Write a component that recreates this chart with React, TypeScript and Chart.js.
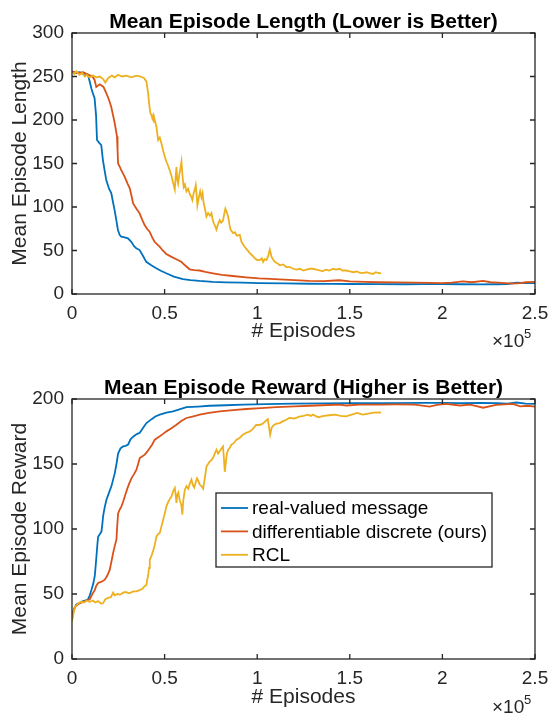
import { useEffect, useRef } from "react";
import { Chart, registerables } from "chart.js";

Chart.register(...registerables);

const FONT = "'Liberation Sans', Arial, Helvetica, sans-serif";
const AXIS = "#262626";
const COLORS = ["#0072BD", "#D95319", "#EDB120"];
const seriesNames = ["real-valued message", "differentiable discrete (ours)", "RCL"];

const xTicks = [0, 0.5, 1, 1.5, 2, 2.5];
const lenTicks = [0, 50, 100, 150, 200, 250, 300];
const rewTicks = [0, 50, 100, 150, 200];

// x in units of 10^5 episodes
const lenReal: [number, number][] = [
  [0, 255], [0.02, 254], [0.04, 255], [0.06, 253], [0.086, 252], [0.096, 244], [0.105, 236], [0.114, 230],
  [0.122, 225], [0.13, 205], [0.135, 177], [0.146, 174], [0.158, 171], [0.167, 154], [0.176, 142], [0.185, 131],
  [0.2, 121], [0.212, 116], [0.221, 106], [0.23, 96.5], [0.24, 84], [0.248, 73.6], [0.257, 68], [0.266, 66],
  [0.284, 65], [0.302, 64], [0.32, 60], [0.335, 55], [0.347, 52.5], [0.365, 50.5], [0.383, 44], [0.401, 37],
  [0.428, 33], [0.455, 29.5], [0.482, 26.5], [0.509, 23.8], [0.55, 20], [0.599, 17.2], [0.64, 16], [0.689, 15],
  [0.76, 14], [0.833, 13.4], [0.92, 13], [1.01, 12.6], [1.15, 12.2], [1.28, 11.8], [1.4, 11.6], [1.5, 11.5],
  [1.65, 11.3], [1.8, 11.2], [1.9, 11.4], [2.0, 11.5], [2.1, 11.2], [2.2, 11], [2.3, 11.2], [2.35, 11.5],
  [2.4, 13], [2.45, 12.5], [2.5, 12.5],
];

const lenDisc: [number, number][] = [
  [0, 256], [0.03, 254], [0.06, 255], [0.09, 252], [0.11, 250], [0.122, 246], [0.131, 238], [0.15, 241],
  [0.17, 238], [0.185, 231], [0.2, 223], [0.212, 215], [0.222, 205], [0.231, 196], [0.243, 181], [0.246, 165],
  [0.249, 150], [0.258, 146], [0.266, 142.5], [0.284, 135], [0.3, 127], [0.312, 121.5], [0.322, 112], [0.33, 104],
  [0.348, 98], [0.365, 92.7], [0.38, 85], [0.392, 79.3], [0.405, 75], [0.419, 71.6], [0.433, 65], [0.446, 60],
  [0.46, 57], [0.473, 54.4], [0.49, 50], [0.509, 46], [0.535, 43], [0.563, 40], [0.59, 37], [0.61, 33],
  [0.635, 28.4], [0.66, 27.5], [0.689, 27], [0.72, 25.5], [0.761, 23.8], [0.81, 22], [0.868, 20.7], [0.94, 19.2],
  [1.01, 18], [1.07, 17.4], [1.12, 16.8], [1.2, 16], [1.28, 15], [1.36, 14.8], [1.42, 15.5], [1.444, 15.8],
  [1.5, 14.5], [1.58, 14], [1.66, 13.5], [1.75, 13.3], [1.85, 13], [1.93, 12.8], [2.0, 12.5], [2.05, 13],
  [2.11, 14.5], [2.16, 13.5], [2.22, 15], [2.26, 13.5], [2.3, 13], [2.38, 12], [2.42, 12.5], [2.45, 13.5],
  [2.5, 14],
];

const lenRcl: [number, number][] = [
  [0, 255], [0.012, 253], [0.024, 256], [0.04, 252], [0.055, 254], [0.07, 250], [0.078, 252], [0.095, 249],
  [0.114, 251], [0.13, 249], [0.15, 250], [0.168, 247], [0.18, 243], [0.195, 248], [0.215, 251], [0.231, 249],
  [0.249, 252], [0.27, 250], [0.294, 251], [0.32, 249], [0.348, 251], [0.37, 250], [0.39, 248], [0.402, 244],
  [0.406, 238], [0.411, 231], [0.417, 218], [0.423, 208], [0.428, 206], [0.434, 202], [0.438, 205], [0.443, 198],
  [0.447, 200], [0.456, 192], [0.462, 182], [0.465, 177], [0.474, 180], [0.483, 173], [0.492, 165], [0.501, 158],
  [0.51, 152], [0.518, 148], [0.528, 142], [0.537, 136], [0.548, 126], [0.555, 120], [0.56, 135], [0.564, 146],
  [0.568, 132], [0.573, 127], [0.58, 138], [0.586, 145], [0.591, 152], [0.597, 135], [0.603, 123], [0.61, 126],
  [0.618, 118], [0.627, 121], [0.636, 115], [0.643, 112], [0.65, 108], [0.657, 116], [0.663, 120], [0.668, 125],
  [0.673, 114], [0.677, 102], [0.684, 110], [0.692, 118], [0.699, 111], [0.705, 116], [0.711, 104], [0.718, 98],
  [0.726, 89], [0.735, 93], [0.745, 90], [0.753, 93], [0.76, 85], [0.766, 81], [0.773, 78], [0.78, 74],
  [0.788, 80], [0.798, 85], [0.806, 82], [0.815, 84], [0.822, 92], [0.828, 98], [0.834, 95], [0.843, 89],
  [0.85, 80], [0.856, 74], [0.863, 72], [0.87, 70], [0.88, 71], [0.89, 67], [0.906, 68], [0.915, 60],
  [0.924, 57], [0.933, 54], [0.945, 51], [0.96, 47], [0.975, 44], [0.987, 41], [1.0, 39], [1.014, 39],
  [1.025, 41], [1.032, 37], [1.04, 40], [1.05, 39], [1.06, 44], [1.068, 51], [1.073, 47], [1.077, 43],
  [1.088, 39], [1.095, 37], [1.11, 35], [1.122, 33], [1.14, 34], [1.157, 31], [1.176, 31], [1.195, 29],
  [1.212, 28], [1.23, 29], [1.25, 27], [1.266, 28], [1.284, 29], [1.3, 29], [1.32, 28], [1.34, 27],
  [1.352, 26], [1.37, 28], [1.39, 27], [1.41, 29], [1.426, 28], [1.445, 29], [1.46, 27], [1.48, 27],
  [1.5, 26], [1.52, 25], [1.54, 26], [1.552, 24.5], [1.57, 24], [1.59, 25], [1.606, 24], [1.625, 23],
  [1.64, 25], [1.655, 24], [1.669, 24],
];

const rewReal: [number, number][] = [
  [0, 31], [0.008, 37], [0.016, 40], [0.024, 42], [0.04, 43], [0.06, 44.5], [0.075, 45], [0.087, 46],
  [0.096, 49], [0.105, 53], [0.115, 58], [0.123, 64], [0.128, 72], [0.132, 79], [0.137, 88], [0.141, 94],
  [0.15, 96], [0.159, 98], [0.164, 104], [0.168, 110], [0.177, 117], [0.186, 122.5], [0.2, 128], [0.213, 133],
  [0.222, 138], [0.231, 143], [0.24, 150], [0.249, 158], [0.262, 162], [0.276, 163.5], [0.29, 164], [0.303, 165],
  [0.316, 169], [0.33, 171], [0.35, 173], [0.366, 174], [0.385, 178], [0.402, 181.5], [0.43, 184.5], [0.45, 186.5],
  [0.474, 188], [0.51, 189.5], [0.546, 190.5], [0.58, 192], [0.618, 193.8], [0.68, 194.2], [0.744, 194.8], [0.83, 195.2],
  [0.924, 195.6], [1.05, 196], [1.194, 196.4], [1.35, 196.7], [1.5, 196.8], [1.7, 196.9], [1.9, 197], [2.0, 197],
  [2.1, 196.8], [2.2, 197], [2.3, 196.8], [2.35, 196.5], [2.4, 197.3], [2.45, 196.5], [2.5, 196.3],
];

const rewDisc: [number, number][] = [
  [0, 32], [0.008, 37], [0.016, 40], [0.024, 41], [0.042, 43], [0.06, 44], [0.08, 45], [0.096, 46],
  [0.11, 50], [0.123, 53], [0.13, 56], [0.141, 58.5], [0.16, 59.5], [0.177, 61], [0.19, 64], [0.204, 68.7],
  [0.213, 75], [0.222, 81.5], [0.231, 87], [0.24, 92], [0.244, 102], [0.249, 112], [0.258, 115], [0.267, 117.4],
  [0.276, 121], [0.285, 125], [0.294, 129], [0.303, 132.8], [0.312, 136], [0.321, 139], [0.334, 142], [0.348, 145.6],
  [0.357, 150], [0.366, 154.6], [0.38, 156], [0.393, 157.2], [0.406, 159.5], [0.42, 162.3], [0.433, 165], [0.447, 168.7],
  [0.46, 170], [0.474, 171.3], [0.49, 173], [0.51, 175.1], [0.537, 177.5], [0.564, 180.2], [0.59, 183], [0.618, 185.4],
  [0.65, 186.5], [0.69, 187.9], [0.74, 189.3], [0.798, 190.5], [0.87, 191.5], [0.942, 192.3], [1.02, 193], [1.104, 193.8],
  [1.2, 194.4], [1.284, 194.8], [1.35, 195.2], [1.445, 195.7], [1.481, 195], [1.55, 195.6], [1.661, 195.7], [1.75, 195.8],
  [1.85, 195.6], [1.931, 194.2], [1.97, 195.5], [2.02, 196.2], [2.094, 195], [2.15, 195.6], [2.22, 193.3], [2.29, 195.5],
  [2.38, 196.3], [2.42, 194.4], [2.46, 194.8], [2.5, 194.2],
];

const rewRcl: [number, number][] = [
  [0, 29], [0.008, 35], [0.016, 40], [0.024, 41], [0.035, 43], [0.05, 44], [0.065, 43.5], [0.08, 45],
  [0.095, 44], [0.114, 45], [0.125, 43.5], [0.14, 44.5], [0.158, 42.5], [0.168, 43], [0.18, 46], [0.195, 47],
  [0.21, 47.5], [0.222, 51], [0.231, 49], [0.245, 50], [0.26, 49.5], [0.276, 51], [0.29, 51.5], [0.31, 50.5],
  [0.33, 52], [0.348, 52], [0.365, 53], [0.38, 54], [0.392, 56], [0.402, 57], [0.406, 61], [0.411, 64],
  [0.416, 70], [0.42, 76.4], [0.428, 79], [0.438, 83], [0.447, 88], [0.456, 94.3], [0.465, 96], [0.474, 97],
  [0.483, 102], [0.492, 107], [0.501, 112], [0.51, 117.4], [0.52, 121], [0.528, 123], [0.537, 125], [0.546, 129],
  [0.555, 131.5], [0.56, 126], [0.564, 120], [0.568, 126], [0.574, 128], [0.582, 122], [0.591, 118], [0.596, 111],
  [0.6, 121], [0.609, 130], [0.618, 133], [0.628, 131], [0.636, 135], [0.645, 138], [0.652, 134], [0.66, 132],
  [0.668, 136], [0.675, 139], [0.682, 137], [0.69, 134], [0.699, 133], [0.708, 131], [0.716, 138], [0.726, 148],
  [0.735, 150], [0.744, 152], [0.753, 153], [0.762, 155], [0.771, 158], [0.78, 161], [0.789, 158], [0.798, 160],
  [0.807, 162], [0.815, 163.5], [0.82, 155], [0.825, 144], [0.83, 150], [0.836, 158], [0.843, 161], [0.85, 162],
  [0.86, 164.8], [0.873, 166], [0.888, 168.7], [0.905, 170], [0.922, 172.5], [0.94, 174], [0.96, 175], [0.977, 177],
  [0.994, 180], [1.012, 180], [1.03, 181], [1.045, 183], [1.057, 184.6], [1.064, 178], [1.07, 172.5], [1.078, 178],
  [1.09, 180], [1.105, 181], [1.122, 181.5], [1.14, 183], [1.157, 184], [1.174, 185.4], [1.2, 185], [1.228, 186.4],
  [1.25, 187], [1.273, 187.9], [1.29, 187], [1.3, 188], [1.33, 186], [1.36, 187], [1.39, 187.5], [1.42, 188],
  [1.45, 187], [1.48, 186.7], [1.51, 188], [1.54, 189.3], [1.57, 188], [1.6, 188.7], [1.63, 189.5], [1.66, 189.7],
  [1.669, 189.5],
];

type Panel = {
  title: string;
  ylabel: string;
  yTicks: number[];
  series: [number, number][][];
  height: number;
  top: number;
  bottom: number;
  titleY: number;
  xlabelY: number;
  expY: number;
  legend: null | { x: number; y: number; w: number; h: number };
};

const panels: Panel[] = [
  {
    title: "Mean Episode Length (Lower is Better)",
    ylabel: "Mean Episode Length",
    yTicks: lenTicks,
    series: [lenReal, lenDisc, lenRcl],
    height: 360,
    top: 33,
    bottom: 294,
    titleY: 28,
    xlabelY: 337,
    expY: 347,
    legend: null,
  },
  {
    title: "Mean Episode Reward (Higher is Better)",
    ylabel: "Mean Episode Reward",
    yTicks: rewTicks,
    series: [rewReal, rewDisc, rewRcl],
    height: 355,
    top: 39,
    bottom: 299,
    titleY: 34,
    xlabelY: 343,
    expY: 353,
    legend: { x: 216, y: 133, w: 276, h: 74 },
  },
];

const LEFT = 72;
const RIGHT = 535;
const WIDTH = 550;
const TICK_LEN = 5;

function makeChart(canvas: HTMLCanvasElement, p: Panel) {
  const frame = {
    id: "matlabFrame",
    afterDatasetsDraw(chart: any) {
      const { ctx, chartArea: a, scales } = chart;
      ctx.save();
      ctx.strokeStyle = AXIS;
      ctx.lineWidth = 1.3;
      ctx.beginPath();
      for (const v of xTicks) {
        const px = scales.x.getPixelForValue(v);
        ctx.moveTo(px, a.bottom);
        ctx.lineTo(px, a.bottom - TICK_LEN);
        ctx.moveTo(px, a.top);
        ctx.lineTo(px, a.top + TICK_LEN);
      }
      for (const v of p.yTicks) {
        const py = scales.y.getPixelForValue(v);
        ctx.moveTo(a.left, py);
        ctx.lineTo(a.left + TICK_LEN, py);
        ctx.moveTo(a.right, py);
        ctx.lineTo(a.right - TICK_LEN, py);
      }
      ctx.stroke();
      ctx.strokeRect(a.left, a.top, a.right - a.left, a.bottom - a.top);

      const cx = (a.left + a.right) / 2;
      const cy = (a.top + a.bottom) / 2;
      ctx.fillStyle = "#000";
      ctx.textAlign = "center";
      ctx.textBaseline = "alphabetic";
      ctx.font = `bold 21px ${FONT}`;
      ctx.fillText(p.title, cx, p.titleY);

      ctx.fillStyle = AXIS;
      ctx.font = `21px ${FONT}`;
      ctx.fillText("# Episodes", cx, p.xlabelY);
      ctx.save();
      ctx.translate(26, cy);
      ctx.rotate(-Math.PI / 2);
      ctx.fillText(p.ylabel, 0, 0);
      ctx.restore();

      ctx.textAlign = "left";
      ctx.font = `19px ${FONT}`;
      ctx.fillText("\u00d710", 492, p.expY);
      ctx.font = `13px ${FONT}`;
      ctx.fillText("5", 524, p.expY - 9);

      if (p.legend) {
        const L = p.legend;
        ctx.fillStyle = "#fff";
        ctx.fillRect(L.x, L.y, L.w, L.h);
        ctx.strokeStyle = AXIS;
        ctx.lineWidth = 1.3;
        ctx.strokeRect(L.x, L.y, L.w, L.h);
        ctx.font = `19px ${FONT}`;
        ctx.textBaseline = "middle";
        chart.data.datasets.forEach((ds: any, i: number) => {
          const ry = L.y + 15 + i * 23.4;
          ctx.strokeStyle = ds.borderColor;
          ctx.lineWidth = 1.8;
          ctx.beginPath();
          ctx.moveTo(L.x + 5, ry);
          ctx.lineTo(L.x + 32, ry);
          ctx.stroke();
          ctx.fillStyle = "#000";
          ctx.fillText(ds.label, L.x + 36, ry + 1);
        });
      }
      ctx.restore();
    },
  };

  return new Chart(canvas, {
    type: "line",
    data: {
      datasets: p.series.map((s, i) => ({
        label: seriesNames[i],
        data: s.map(([x, y]) => ({ x, y })),
        borderColor: COLORS[i],
        backgroundColor: COLORS[i],
        borderWidth: 1.8,
        pointRadius: 0,
        tension: 0,
        fill: false,
        order: 3 - i,
      })),
    },
    options: {
      responsive: false,
      animation: false,
      devicePixelRatio: 1,
      events: [],
      layout: { padding: { top: p.top, right: WIDTH - RIGHT, left: 0, bottom: 0 } },
      plugins: {
        legend: { display: false },
        tooltip: { enabled: false },
        title: { display: false },
      },
      scales: {
        x: {
          type: "linear",
          min: 0,
          max: 2.5,
          afterBuildTicks: (s: any) => {
            s.ticks = xTicks.map((v) => ({ value: v }));
          },
          afterFit: (s: any) => {
            s.height = p.height - p.bottom;
            s.paddingLeft = 0;
            s.paddingRight = 0;
          },
          grid: { display: false, drawTicks: false },
          border: { display: false },
          ticks: {
            padding: 8,
            color: AXIS,
            font: { family: FONT, size: 19 },
            maxRotation: 0,
            autoSkip: false,
            callback: (v: any) => String(v),
          },
        },
        y: {
          type: "linear",
          min: p.yTicks[0],
          max: p.yTicks[p.yTicks.length - 1],
          afterBuildTicks: (s: any) => {
            s.ticks = p.yTicks.map((v) => ({ value: v }));
          },
          afterFit: (s: any) => {
            s.width = LEFT;
            s.paddingTop = 0;
            s.paddingBottom = 0;
          },
          grid: { display: false, drawTicks: false },
          border: { display: false },
          ticks: {
            padding: 8,
            color: AXIS,
            font: { family: FONT, size: 19 },
            autoSkip: false,
            callback: (v: any) => String(v),
          },
        },
      },
    },
    plugins: [frame],
  } as any);
}

export default function App() {
  const ref1 = useRef<HTMLCanvasElement | null>(null);
  const ref2 = useRef<HTMLCanvasElement | null>(null);

  useEffect(() => {
    const charts: Chart[] = [];
    if (ref1.current) charts.push(makeChart(ref1.current, panels[0]));
    if (ref2.current) charts.push(makeChart(ref2.current, panels[1]));
    return () => charts.forEach((c) => c.destroy());
  }, []);

  return (
    <div style={{ position: "absolute", left: 0, top: 0, width: WIDTH, height: 715, background: "#fff" }}>
      <canvas ref={ref1} width={WIDTH} height={panels[0].height} style={{ position: "absolute", left: 0, top: 0 }} />
      <canvas ref={ref2} width={WIDTH} height={panels[1].height} style={{ position: "absolute", left: 0, top: panels[0].height }} />
    </div>
  );
}
